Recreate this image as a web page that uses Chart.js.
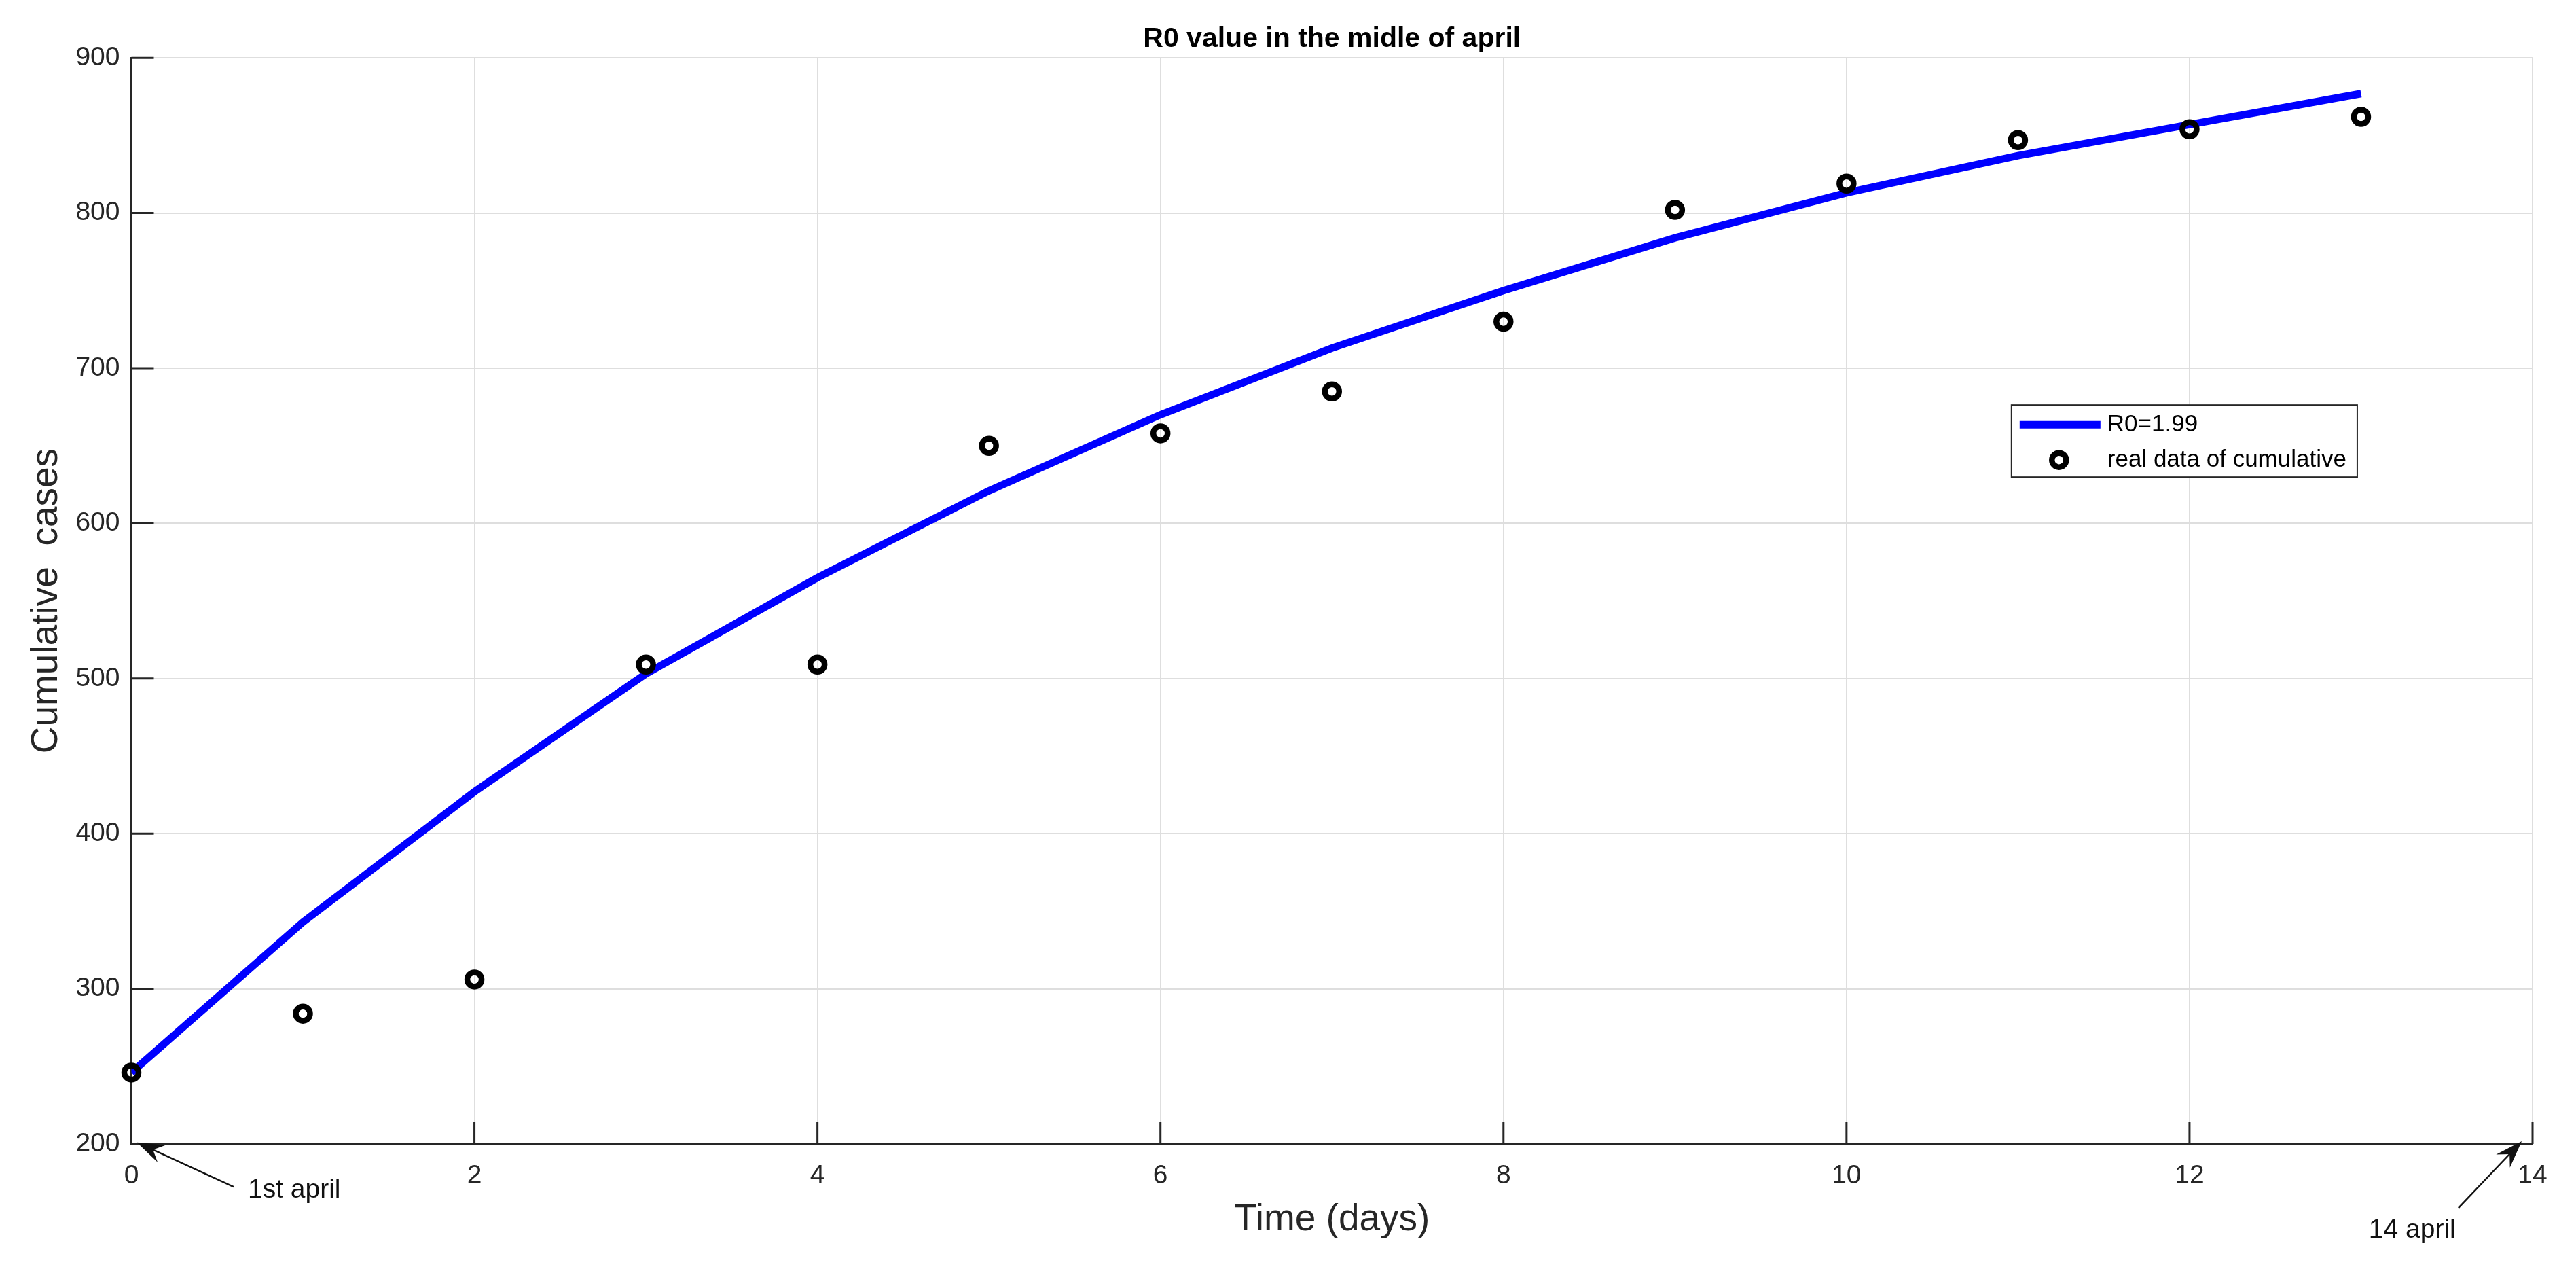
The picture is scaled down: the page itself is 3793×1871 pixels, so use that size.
<!DOCTYPE html>
<html lang="en">
  <head>
    <meta charset="UTF-8" />
    <title>R0 value in the midle of april</title>
    <style>
      * {
        margin: 0;
        padding: 0;
      }
      body {
        background: #fff;
      }
    </style>
  </head>
  <body>
    <canvas id="myChart" width="3793" height="1871"></canvas>

    <script src="https://cdn.jsdelivr.net/npm/chart.js"></script>

    <script>
      // data
      const days = [0, 1, 2, 3, 4, 5, 6, 7, 8, 9, 10, 11, 12, 13];
      const modelCases = [246, 343, 427, 503, 565, 621, 670, 713, 750, 784, 813, 837, 857, 877];
      const realCases = [246, 284, 306, 509, 509, 650, 658, 685, 730, 802, 819, 847, 854, 862];
      const xTicks = [0, 2, 4, 6, 8, 10, 12, 14];
      const yTicks = [200, 300, 400, 500, 600, 700, 800, 900];

      // arrow notes, in axis units
      const notes = [
        { label: "1st april", tip: [0.032, 201], tail: [0.596, 172.4], textAt: [0.679, 165.4] },
        { label: "14 april", tip: [13.937, 201.7], tail: [13.568, 158.8], textAt: [13.045, 139.6] }
      ];

      const FONT = "'Liberation Sans', Arial, sans-serif";
      const DARK = "#262626";

      // MATLAB style ticks, pointing into the axes
      const innerTicks = {
        id: "innerTicks",
        beforeDatasetsDraw(chart) {
          const { ctx, chartArea: a, scales: { x, y } } = chart;
          ctx.save();
          ctx.strokeStyle = DARK;
          ctx.lineWidth = 3;
          ctx.beginPath();
          x.ticks.forEach((t) => {
            const px = x.getPixelForValue(t.value);
            ctx.moveTo(px, a.bottom);
            ctx.lineTo(px, a.bottom - 33);
          });
          y.ticks.forEach((t) => {
            const py = y.getPixelForValue(t.value);
            ctx.moveTo(a.left, py);
            ctx.lineTo(a.left + 33, py);
          });
          ctx.stroke();
          ctx.restore();
        }
      };

      // boxed legend inside the axes
      const boxLegend = {
        id: "boxLegend",
        afterDraw(chart) {
          const { ctx, chartArea: a } = chart;
          const [line, dots] = chart.data.datasets;
          ctx.save();
          ctx.font = "35px " + FONT;
          const left = a.left + 0.783 * (a.right - a.left);
          const top = a.top + 0.3196 * (a.bottom - a.top);
          const textX = left + 141;
          const w = 141 + Math.max(ctx.measureText(line.label).width, ctx.measureText(dots.label).width) + 16;
          const h = 106;
          ctx.fillStyle = "#fff";
          ctx.fillRect(left, top, w, h);
          ctx.strokeStyle = DARK;
          ctx.lineWidth = 2;
          ctx.strokeRect(left, top, w, h);

          ctx.strokeStyle = line.borderColor;
          ctx.lineWidth = line.borderWidth;
          ctx.beginPath();
          ctx.moveTo(left + 12, top + 29);
          ctx.lineTo(left + 131, top + 29);
          ctx.stroke();

          ctx.strokeStyle = dots.borderColor;
          ctx.lineWidth = dots.borderWidth;
          ctx.beginPath();
          ctx.arc(left + 70, top + 81, dots.pointRadius, 0, Math.PI * 2);
          ctx.stroke();

          ctx.fillStyle = "#000";
          ctx.textBaseline = "middle";
          ctx.fillText(line.label, textX, top + 29);
          ctx.fillText(dots.label, textX, top + 81);
          ctx.restore();
        }
      };

      // text arrows under the x axis
      const arrowNotes = {
        id: "arrowNotes",
        afterDraw(chart) {
          const { ctx, scales: { x, y } } = chart;
          ctx.save();
          ctx.font = "39px " + FONT;
          ctx.fillStyle = "#111";
          ctx.strokeStyle = "#111";
          notes.forEach((n) => {
            const tx = x.getPixelForValue(n.tip[0]);
            const ty = y.getPixelForValue(n.tip[1]);
            const sx = x.getPixelForValue(n.tail[0]);
            const sy = y.getPixelForValue(n.tail[1]);
            const ang = Math.atan2(ty - sy, tx - sx);
            const c = Math.cos(ang), s = Math.sin(ang);
            const len = 40, half = 14;

            ctx.lineWidth = 2.5;
            ctx.beginPath();
            ctx.moveTo(sx, sy);
            ctx.lineTo(tx - c * len * 0.6, ty - s * len * 0.6);
            ctx.stroke();

            const bx = tx - c * len, by = ty - s * len;
            ctx.beginPath();
            ctx.moveTo(tx, ty);
            ctx.lineTo(bx - s * half, by + c * half);
            ctx.lineTo(tx - c * len * 0.65, ty - s * len * 0.65);
            ctx.lineTo(bx + s * half, by - c * half);
            ctx.closePath();
            ctx.fill();

            ctx.textBaseline = "alphabetic";
            ctx.fillText(n.label, x.getPixelForValue(n.textAt[0]), y.getPixelForValue(n.textAt[1]));
          });
          ctx.restore();
        }
      };

      const data = {
        datasets: [
          {
            label: "R0=1.99",
            data: days.map((d, i) => ({ x: d, y: modelCases[i] })),
            showLine: true,
            borderColor: "#0000ff",
            borderWidth: 11,
            pointRadius: 0,
            tension: 0,
            order: 2
          },
          {
            label: "real data of cumulative",
            data: days.map((d, i) => ({ x: d, y: realCases[i] })),
            showLine: false,
            pointStyle: "circle",
            pointRadius: 10.5,
            borderWidth: 8.5,
            borderColor: "#000",
            backgroundColor: "rgba(0,0,0,0)",
            clip: false,
            order: 1
          }
        ]
      };

      const config = {
        type: "scatter",
        data,
        options: {
          responsive: false,
          animation: false,
          devicePixelRatio: 1,
          layout: { padding: { left: 0, right: 64, top: 0, bottom: 0 } },
          plugins: {
            legend: { display: false },
            tooltip: { enabled: false },
            title: {
              display: true,
              text: "R0 value in the midle of april",
              fullSize: false,
              color: "#000",
              font: { family: FONT, size: 41, weight: "bold" },
              padding: { top: 33, bottom: 3 }
            }
          },
          scales: {
            x: {
              type: "linear",
              min: 0,
              max: 14,
              afterBuildTicks: (s) => { s.ticks = xTicks.map((v) => ({ value: v })); },
              afterFit: (s) => { s.height = 187; },
              grid: { color: "#dedede", lineWidth: 2, drawTicks: false },
              border: { display: true, color: DARK, width: 3 },
              ticks: { color: DARK, padding: 24, font: { family: FONT, size: 39 } },
              title: {
                display: true,
                text: "Time (days)",
                color: DARK,
                font: { family: FONT, size: 55 },
                padding: { top: 0, bottom: 42 }
              }
            },
            y: {
              type: "linear",
              min: 200,
              max: 900,
              afterBuildTicks: (s) => { s.ticks = yTicks.map((v) => ({ value: v })); },
              afterFit: (s) => { s.width = 193.5; },
              grid: { color: "#dedede", lineWidth: 2, drawTicks: false },
              border: { display: true, color: DARK, width: 3 },
              ticks: { color: DARK, padding: 17, font: { family: FONT, size: 39 } },
              title: {
                display: true,
                text: "Cumulative  cases",
                color: DARK,
                font: { family: FONT, size: 55 },
                padding: { top: 36, bottom: 0 }
              }
            }
          }
        },
        plugins: [innerTicks, boxLegend, arrowNotes]
      };

      const myChart = new Chart(document.getElementById("myChart"), config);
    </script>
  </body>
</html>
